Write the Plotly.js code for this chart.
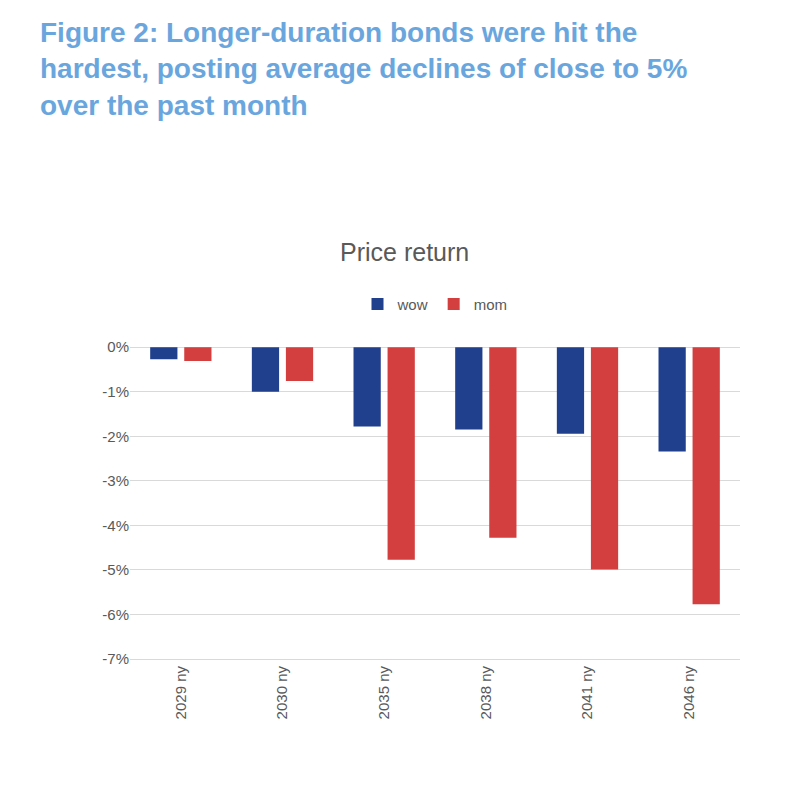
<!DOCTYPE html>
<html>
<head>
<script src="https://cdn.plot.ly/plotly-3.0.1.min.js"></script>
<style>body{margin:0}</style>
</head>
<body>
<div id="chart" style="width:800px;height:800px"></div>
<script>
var bonds = ['2029 ny', '2030 ny', '2035 ny', '2038 ny', '2041 ny', '2046 ny']
var wow = [-0.27, -1.0, -1.78, -1.85, -1.94, -2.34]
var mom = [-0.31, -0.76, -4.77, -4.28, -4.99, -5.77]

var traces = [
  {x: bonds, y: wow, name: 'wow', type: 'bar', marker: {color: '#203f8c'}},
  {x: bonds, y: mom, name: 'mom', type: 'bar', marker: {color: '#d33f3f'}}
]

var layout = {
  width: 800, height: 800,
  margin: {t: 345, r: 60, b: 141, l: 130},
  paper_bgcolor: 'white', plot_bgcolor: 'white',
  font: {family: 'Liberation Sans, Arial', color: '#595959'},
  barmode: 'group', bargap: 0.33, bargroupgap: 0.2,
  showlegend: true,
  legend: {orientation: 'h', x: 0.5, xanchor: 'center', y: 1.13, yanchor: 'middle', font: {size: 15}},
  xaxis: {tickangle: -90, tickfont: {size: 15}, showline: true, linecolor: '#d9d9d9', ticks: ''},
  yaxis: {range: [-7, 0.05], tickvals: [0,-1,-2,-3,-4,-5,-6,-7],
    ticktext: ['0%','-1%','-2%','-3%','-4%','-5%','-6%','-7%'],
    gridcolor: '#d9d9d9', zeroline: false, tickfont: {size: 15}},
  annotations: [
    {text: '<b>Figure 2: Longer-duration bonds were hit the<br>hardest, posting average declines of close to 5%<br>over the past month</b>',
     xref: 'paper', yref: 'paper', x: -0.151, y: 1.0, xanchor: 'left', yanchor: 'top',
     yshift: 330, align: 'left', showarrow: false,
     font: {size: 28, color: '#6aa6de', family: 'Liberation Sans, Arial'}},
    {text: 'Price return', xref: 'paper', yref: 'paper', x: 0.45, y: 1, yshift: 109,
     showarrow: false, font: {size: 25, color: '#595959'}}
  ]
}

Plotly.newPlot('chart', traces, layout, {displayModeBar: false})
</script>
</body>
</html>
